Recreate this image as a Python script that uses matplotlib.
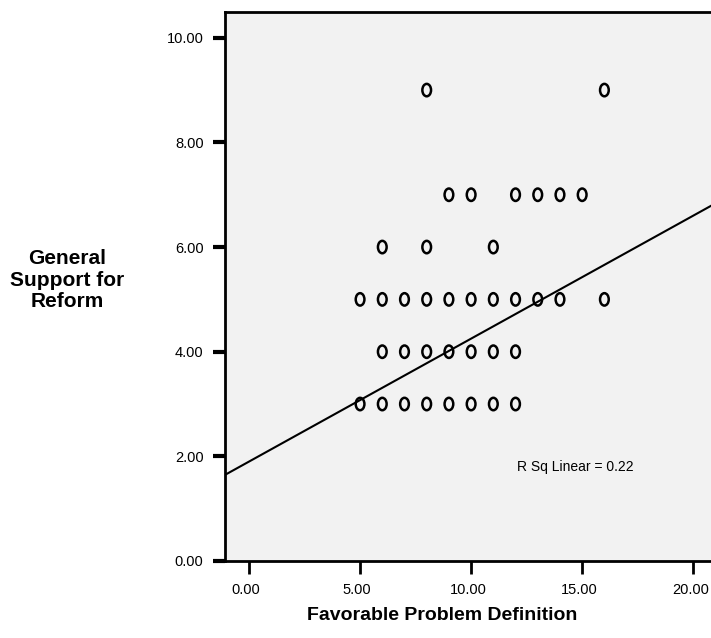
import numpy as np
import matplotlib
matplotlib.use("Agg")
import matplotlib.pyplot as plt
from matplotlib.path import Path
from matplotlib.transforms import Affine2D, ScaledTranslation

plt.rcParams['font.family'] = ['Liberation Sans', 'DejaVu Sans']

# Data
x_vals = [5, 6, 7, 8, 9, 10, 11, 12,
          6, 7, 8, 9, 10, 11, 12,
          5, 6, 7, 8, 9, 10, 11, 12, 13, 14, 16,
          6, 8, 11,
          9, 10, 12, 13, 14, 15,
          8, 16]
y_vals = [3, 3, 3, 3, 3, 3, 3, 3,
          4, 4, 4, 4, 4, 4, 4,
          5, 5, 5, 5, 5, 5, 5, 5, 5, 5, 5,
          6, 6, 6,
          7, 7, 7, 7, 7, 7,
          9, 9]
fit_intercept = 1.90
fit_slope = 0.235
r_sq_text = "R Sq Linear = 0.22"
x_ticks = [0, 5, 10, 15, 20]
y_ticks = [0, 2, 4, 6, 8, 10]
x_label = "Favorable Problem Definition"
y_label = "General\nSupport for\nReform"

fig = plt.figure(figsize=(7.11, 6.38), dpi=100)
ax = fig.add_axes([0.3165, 0.1207, 0.6835, 0.8603])
ax.set_facecolor('#F2F2F2')

xmin, xmax = -1.08, 20.8
ax.set_xlim(xmin, xmax)
ax.set_ylim(0, 10.49)

# elliptical open marker
circ = Path.unit_circle()
ell = circ.transformed(Affine2D().scale(0.70, 1.0))
ax.scatter(x_vals, y_vals, marker=ell, s=80, facecolors='none',
           edgecolors='black', linewidths=1.8, zorder=3)

xs = np.array([xmin, xmax])
ax.plot(xs, fit_intercept + fit_slope * xs, color='black', lw=1.5, zorder=2)

ax.set_xticks(x_ticks)
ax.set_xticklabels([f"{t:.2f}" for t in x_ticks], fontsize=10.5)
ax.set_yticks(y_ticks)
ax.set_yticklabels([f"{t:.2f}" for t in y_ticks], fontsize=10.5)
ax.tick_params(axis='x', direction='out', length=9, width=2, pad=7)
ax.tick_params(axis='y', direction='out', length=8.5, width=3, pad=7)

shift = ScaledTranslation(-3 / 100, 0, fig.dpi_scale_trans)
for lab in ax.get_xticklabels():
    lab.set_transform(lab.get_transform() + shift)

for s in ['left', 'bottom', 'top']:
    ax.spines[s].set_linewidth(2)
ax.spines['right'].set_visible(False)

ax.text(0.72, 0.171, r_sq_text, transform=ax.transAxes, fontsize=10,
        ha='center', va='center')

fig.text(0.6225, 0.036, x_label, fontsize=14, fontweight='bold',
         ha='center', va='center')
fig.text(0.094, 0.561, y_label, fontsize=15, fontweight='bold',
         ha='center', va='center', linespacing=1.17)

fig.savefig("out.png", dpi=100)
